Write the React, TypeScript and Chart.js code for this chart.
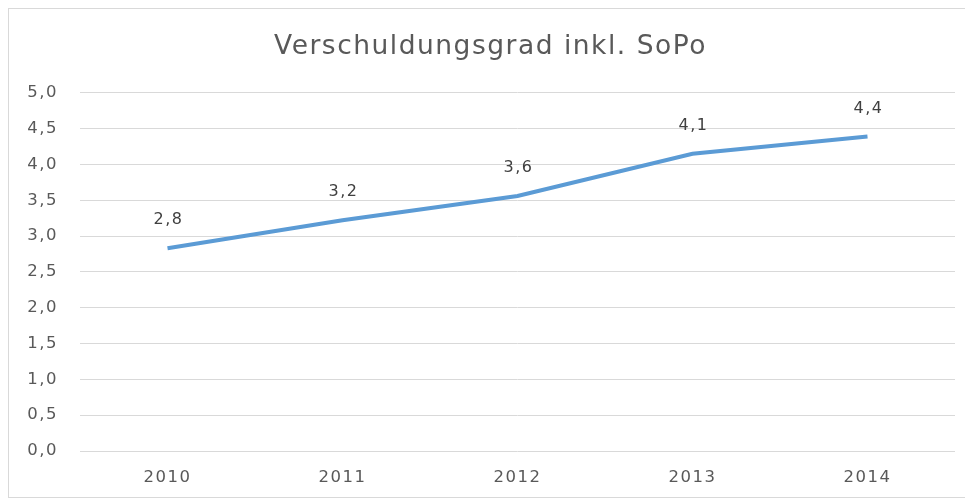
import React, { useEffect, useRef } from "react";
import { Chart, registerables } from "chart.js";

Chart.register(...registerables);

const title = "Verschuldungsgrad inkl. SoPo";
const years = ["2010", "2011", "2012", "2013", "2014"];
const values = [2.83, 3.22, 3.56, 4.15, 4.39];
const valueLabels = ["2,8", "3,2", "3,6", "4,1", "4,4"];
const yMin = 0;
const yMax = 5;
const yStep = 0.5;

const FONT = "'DejaVu Sans', sans-serif";
const SPACING = "1.5px";

const spacingPlugin = {
  id: "spacing",
  beforeUpdate(chart: any) {
    chart.ctx.letterSpacing = SPACING;
  },
  beforeDraw(chart: any) {
    chart.ctx.letterSpacing = SPACING;
  },
};

const dataLabelPlugin = {
  id: "dataLabels",
  afterDatasetsDraw(chart: any) {
    const ctx = chart.ctx;
    const meta = chart.getDatasetMeta(0);
    ctx.save();
    ctx.letterSpacing = SPACING;
    ctx.font = `16px ${FONT}`;
    ctx.fillStyle = "#404040";
    ctx.textAlign = "center";
    ctx.textBaseline = "middle";
    meta.data.forEach((pt: any, i: number) => {
      ctx.fillText(valueLabels[i], pt.x + 1, pt.y - 28);
    });
    ctx.restore();
  },
};

export default function App() {
  const ref = useRef<HTMLCanvasElement | null>(null);
  useEffect(() => {
    if (!ref.current) return;
    const chart = new Chart(ref.current, {
      type: "line",
      data: {
        labels: years,
        datasets: [
          {
            data: values,
            borderColor: "#5b9bd5",
            borderWidth: 4,
            pointRadius: 0,
            tension: 0,
            fill: false,
            yAxisID: "y",
          },
        ],
      },
      plugins: [spacingPlugin, dataLabelPlugin],
      options: {
        animation: false,
        responsive: false,
        layout: { padding: { left: 0, right: 0, top: 0, bottom: 0 } },
        plugins: {
          legend: { display: false },
          tooltip: { enabled: false },
          title: {
            display: true,
            text: title,
            color: "#595959",
            font: { family: FONT, size: 26.5, weight: "normal" },
            padding: { top: 22, bottom: 30 },
          },
        },
        scales: {
          x: {
            offset: true,
            afterFit: (s: any) => {
              s.height = 46;
            },
            grid: { display: false, drawTicks: false },
            border: { display: false },
            ticks: {
              color: "#595959",
              font: { family: FONT, size: 16.5 },
              padding: 17,
            },
          },
          y: {
            position: "left",
            min: yMin,
            max: yMax,
            afterFit: (s: any) => {
              s.width = 71;
            },
            grid: { color: "#d9d9d9", lineWidth: 1, drawTicks: false },
            border: { display: false },
            ticks: {
              stepSize: yStep,
              color: "#595959",
              font: { family: FONT, size: 16.5 },
              padding: 22,
              callback: (v: any) => Number(v).toFixed(1).replace(".", ","),
            },
          },
          yRight: {
            position: "right",
            min: yMin,
            max: yMax,
            afterFit: (s: any) => {
              s.width = 17;
            },
            grid: { display: false, drawTicks: false },
            border: { display: false },
            ticks: { display: false },
          },
        },
      },
    });
    return () => chart.destroy();
  }, []);
  return (
    <div
      style={{
        width: 963,
        height: 488,
        border: "1px solid #d9d9d9",
        background: "#fff",
      }}
    >
      <canvas ref={ref} width={963} height={488} style={{ display: "block" }} />
    </div>
  );
}
